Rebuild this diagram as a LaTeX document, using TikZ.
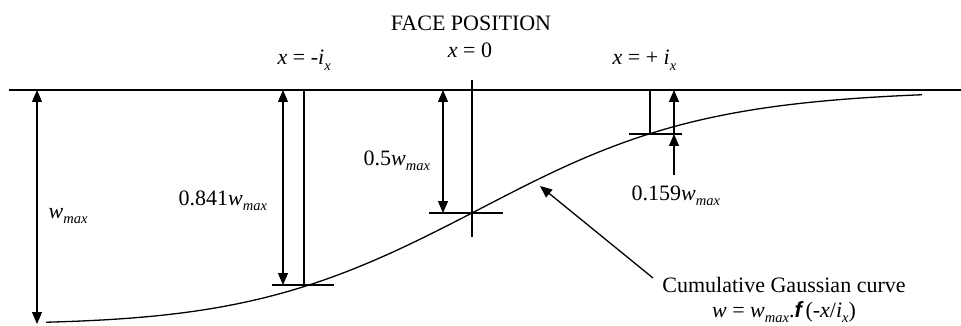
\documentclass[tikz,border=0pt]{standalone}
\usepackage{fontspec}
\setmainfont{Liberation Serif}
\newfontfamily\arialfont{Liberation Sans}
\usetikzlibrary{arrows.meta}
\newcommand\mysub[1]{\raisebox{-5.5pt}{\fontsize{14.5}{15}\selectfont\itshape #1}}
\begin{document}
\begin{tikzpicture}[x=1pt,y=-1pt,line width=1.3pt,
  >={Triangle[width=10pt,length=12pt]},
  lbl/.style={inner sep=0pt,font=\fontsize{22}{26}\selectfont},
  dimline/.style={<->},
  declare function={zz(\t)=(\t-483.6)/180.5;}]
\useasboundingbox (0,0) rectangle (961,326);
% ground surface
\coordinate (gl) at (9,90);
\coordinate (gr) at (961,90);
\draw (gl) -- (gr);
% subsidence curve (cumulative Gaussian)
\draw plot[domain=46:483.6,samples=90,smooth]
    (\x,{90+234/(1+exp(1.5976*zz(\x)+0.070566*zz(\x)*zz(\x)*zz(\x)))})
  -- plot[domain=483.6:922,samples=90,smooth]
    (\x,{90+234/(1+exp(0.00885*(\x-483.6)))});
% w_max arrow
\coordinate (wt) at (37,90);
\coordinate (wb) at (37,324);
\draw[dimline] (wt) -- (wb);
% x = -i_x
\coordinate (mit) at (304,90);
\coordinate (mib) at (304,285);
\coordinate (mil) at (272,285);
\coordinate (mir) at (334,285);
\draw (mit) -- (mib);
\draw (mil) -- (mir);
\coordinate (a8t) at (283,90);
\coordinate (a8b) at (283,285);
\draw[dimline] (a8t) -- (a8b);
% x = 0
\coordinate (zt) at (472,80);
\coordinate (zb) at (472,237);
\coordinate (zl) at (429,213);
\coordinate (zr) at (503,213);
\draw (zt) -- (zb);
\draw (zl) -- (zr);
\coordinate (a5t) at (443,90);
\coordinate (a5b) at (443,213);
\draw[dimline] (a5t) -- (a5b);
% x = +i_x
\coordinate (pit) at (650,90);
\coordinate (pib) at (650,134);
\coordinate (pil) at (629,134);
\coordinate (pir) at (682,134);
\draw (pit) -- (pib);
\draw (pil) -- (pir);
\coordinate (a1t) at (674,90);
\coordinate (a1m) at (674,134);
\coordinate (a1b) at (674,175);
\draw[->] (a1m) -- (a1t);
\draw[->] (a1b) -- (a1m);
% labels
\node[lbl,anchor=base] (face) at (471,31) {FACE POSITION};
\node[lbl,anchor=base] (x0) at (470,58) {\textit{x} = 0};
\node[lbl,anchor=base west] (xm) at (277,65) {\textit{x} = -\textit{i}\mysub{x}};
\node[lbl,anchor=base west] (xp) at (612,65) {\textit{x} = + \textit{i}\mysub{x}};
\node[lbl,anchor=base west] (l5) at (363,165) {0.5\textit{w}\mysub{max}};
\node[lbl,anchor=base west] (l8) at (178,205) {0.841\textit{w}\mysub{max}};
\node[lbl,anchor=base west] (lw) at (48,218) {\textit{w}\mysub{max}};
\node[lbl,anchor=base west] (l1) at (631,200) {0.159\textit{w}\mysub{max}};
\node[lbl,anchor=base] (cg) at (784,292) {Cumulative Gaussian curve};
\node[lbl,anchor=base] (fm) at (784,317) {\textit{w} = \textit{w}\mysub{max}.{\arialfont\bfseries\itshape f}\,(-\textit{x}/\textit{i}\mysub{x})};
% pointer
\coordinate (ptail) at (653,278);
\coordinate (phead) at (540,186);
\draw[->] (ptail) -- (phead);
\end{tikzpicture}
\end{document}
